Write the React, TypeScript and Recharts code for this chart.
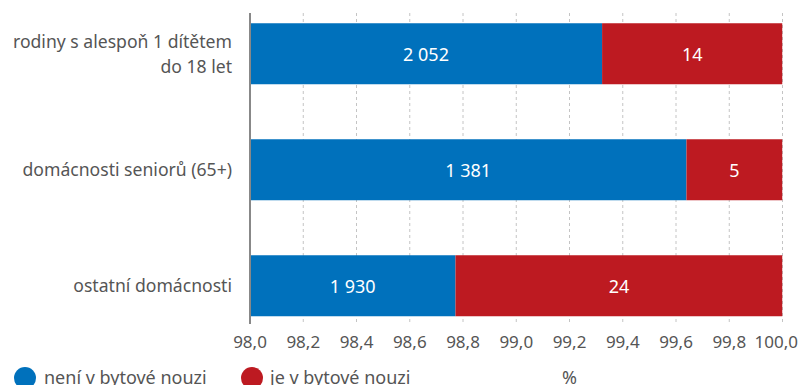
import React from 'react';
import { BarChart, Bar, XAxis, YAxis, CartesianGrid, LabelList } from 'recharts';

const categories = ['rodiny s alespoň 1 dítětem\ndo 18 let', 'domácnosti seniorů (65+)', 'ostatní domácnosti'];
const notInNeed = [2052, 1381, 1930];
const inNeed = [14, 5, 24];
const xTicks = [98, 98.2, 98.4, 98.6, 98.8, 99, 99.2, 99.4, 99.6, 99.8, 100];

const BLUE = '#0071bc';
const RED = '#bd1a21';
const TEXT = '#555555';
const FONT = '"Noto Sans", "Open Sans", sans-serif';

const PLOT_LEFT = 250;
const PLOT_RIGHT = 782.5;

const data = categories.map((name, i) => {
  const total = notInNeed[i] + inNeed[i];
  return {
    name,
    neni: (notInNeed[i] / total) * 100,
    je: (inNeed[i] / total) * 100,
    neniCount: notInNeed[i],
    jeCount: inNeed[i],
  };
});

const fmtCount = (v: number) => String(v).replace(/\B(?=(\d{3})+(?!\d))/g, ' ');

const renderLabel = (props: any) => {
  const vb = props.viewBox || props;
  const x = Number(props.x ?? vb.x);
  const y = Number(props.y ?? vb.y);
  const width = Number(props.width ?? vb.width);
  const height = Number(props.height ?? vb.height);
  const left = Math.max(x, PLOT_LEFT);
  const right = Math.min(x + width, PLOT_RIGHT);
  return (
    <text
      x={(left + right) / 2}
      y={y + height / 2}
      textAnchor="middle"
      dominantBaseline="central"
      fill="#ffffff"
      fontSize={18}
      fontFamily={FONT}
    >
      {fmtCount(props.value)}
    </text>
  );
};

const CategoryTick = (props: any) => {
  const { x, y, payload } = props;
  const lines = String(payload.value).split('\n');
  const lh = 25;
  const start = y - ((lines.length - 1) * lh) / 2;
  return (
    <text x={x - 10} y={start} textAnchor="end" fill={TEXT} fontSize={17.6} fontFamily={FONT} dominantBaseline="central">
      {lines.map((l, i) => (
        <tspan key={i} x={x - 10} y={start + i * lh}>
          {l}
        </tspan>
      ))}
    </text>
  );
};

// last tick would run past the edge, so pin it to the right side
const ValueTick = (props: any) => {
  const { x, y, payload } = props;
  const label = Number(payload.value).toFixed(1).replace('.', ',');
  const isLast = payload.value === xTicks[xTicks.length - 1];
  return (
    <text
      x={isLast ? 798 : x}
      y={y}
      textAnchor={isLast ? 'end' : 'middle'}
      dominantBaseline="hanging"
      fill={TEXT}
      fontSize={17}
      fontFamily={FONT}
    >
      {label}
    </text>
  );
};

const legendText: React.CSSProperties = {
  position: 'absolute',
  top: 366,
  fontSize: 18,
  lineHeight: '22px',
  color: TEXT,
  fontFamily: FONT,
  whiteSpace: 'nowrap',
};

export default function App() {
  return (
    <div style={{ position: 'absolute', left: 0, top: 0, width: 800, height: 385, background: '#fff', overflow: 'hidden' }}>
      <BarChart
        width={800}
        height={385}
        data={data}
        layout="vertical"
        barSize={61}
        margin={{ top: 13, right: 17.5, bottom: 31, left: 0 }}
      >
        <CartesianGrid horizontal={false} stroke="#c4c4c4" strokeDasharray="3 3" />
        <XAxis
          type="number"
          domain={[98, 100]}
          ticks={xTicks}
          allowDataOverflow
          axisLine={false}
          tickLine={false}
          tickMargin={4}
          height={30}
          tick={<ValueTick />}
        />
        <YAxis
          type="category"
          dataKey="name"
          width={250}
          padding={{ top: -17.7, bottom: -19.3 }}
          axisLine={{ stroke: '#888888', strokeWidth: 2 }}
          tickLine={false}
          tick={<CategoryTick />}
        />
        <Bar dataKey="neni" stackId="a" fill={BLUE} isAnimationActive={false}>
          <LabelList dataKey="neniCount" content={renderLabel} />
        </Bar>
        <Bar dataKey="je" stackId="a" fill={RED} isAnimationActive={false}>
          <LabelList dataKey="jeCount" content={renderLabel} />
        </Bar>
      </BarChart>
      <div style={{ position: 'absolute', left: 14, top: 367, width: 22, height: 22, borderRadius: '50%', background: BLUE }} />
      <div style={{ ...legendText, left: 44 }}>není v bytové nouzi</div>
      <div style={{ position: 'absolute', left: 241, top: 367, width: 22, height: 22, borderRadius: '50%', background: RED }} />
      <div style={{ ...legendText, left: 270 }}>je v bytové nouzi</div>
      <div style={{ ...legendText, left: 562 }}>%</div>
    </div>
  );
}
